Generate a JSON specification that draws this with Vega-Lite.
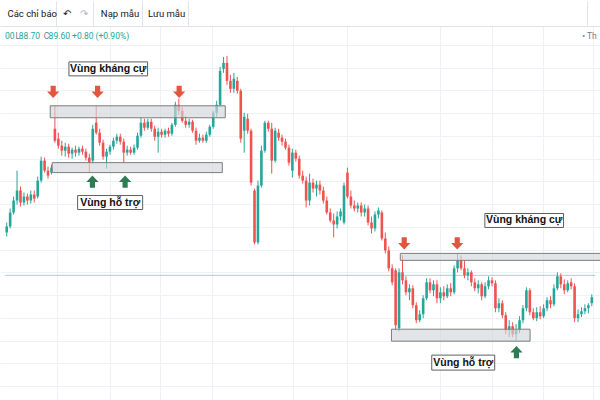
{
  "$schema": "https://vega.github.io/schema/vega-lite/v6.json",
  "width": 600,
  "height": 400,
  "padding": 0,
  "autosize": {"type": "fit", "contains": "padding"},
  "background": "#ffffff",
  "config": {"view": {"stroke": null}},
  "datasets": {
    "candles": [
      {"i":0,"o":96.1,"h":97.1,"l":95.7,"c":96.7},
      {"i":1,"o":96.7,"h":98.5,"l":96.5,"c":98.1},
      {"i":2,"o":98.1,"h":99.7,"l":97.9,"c":99.3},
      {"i":3,"o":99.3,"h":102.3,"l":98.9,"c":100.3},
      {"i":4,"o":100.3,"h":100.7,"l":98.7,"c":99.1},
      {"i":5,"o":99.1,"h":100.1,"l":98.8,"c":99.7},
      {"i":6,"o":99.7,"h":100.0,"l":98.9,"c":99.3},
      {"i":7,"o":99.3,"h":100.3,"l":99.0,"c":99.9},
      {"i":8,"o":99.9,"h":100.3,"l":99.1,"c":99.5},
      {"i":9,"o":99.7,"h":101.7,"l":99.5,"c":101.3},
      {"i":10,"o":101.3,"h":103.7,"l":101.1,"c":103.3},
      {"i":11,"o":103.3,"h":103.6,"l":102.1,"c":102.3},
      {"i":12,"o":102.3,"h":102.7,"l":101.5,"c":101.8},
      {"i":13,"o":102.1,"h":102.9,"l":101.9,"c":102.6},
      {"i":14,"o":106.5,"h":108.8,"l":105.1,"c":105.3},
      {"i":15,"o":105.5,"h":106.1,"l":104.5,"c":104.8},
      {"i":16,"o":104.8,"h":105.3,"l":103.8,"c":104.3},
      {"i":17,"o":104.3,"h":105.1,"l":103.7,"c":104.7},
      {"i":18,"o":104.7,"h":105.0,"l":103.6,"c":104.0},
      {"i":19,"o":104.0,"h":104.6,"l":103.5,"c":104.4},
      {"i":20,"o":104.4,"h":104.8,"l":103.7,"c":104.1},
      {"i":21,"o":104.1,"h":104.7,"l":103.8,"c":104.5},
      {"i":22,"o":104.5,"h":104.8,"l":103.9,"c":104.2},
      {"i":23,"o":104.2,"h":104.5,"l":103.3,"c":103.6},
      {"i":24,"o":103.6,"h":104.0,"l":102.1,"c":103.1},
      {"i":25,"o":103.3,"h":106.9,"l":103.0,"c":106.5},
      {"i":26,"o":107.1,"h":108.8,"l":105.9,"c":106.1},
      {"i":27,"o":106.1,"h":106.5,"l":104.8,"c":105.1},
      {"i":28,"o":105.1,"h":105.4,"l":103.4,"c":103.7},
      {"i":29,"o":103.7,"h":104.5,"l":102.5,"c":104.2},
      {"i":30,"o":104.2,"h":104.9,"l":103.9,"c":104.7},
      {"i":31,"o":104.7,"h":105.6,"l":104.4,"c":105.3},
      {"i":32,"o":105.3,"h":106.0,"l":105.0,"c":105.7},
      {"i":33,"o":105.7,"h":106.0,"l":104.9,"c":105.2},
      {"i":34,"o":105.2,"h":105.5,"l":103.1,"c":104.1},
      {"i":35,"o":104.1,"h":104.8,"l":103.8,"c":104.4},
      {"i":36,"o":104.4,"h":104.7,"l":103.9,"c":104.1},
      {"i":37,"o":104.1,"h":104.9,"l":103.9,"c":104.6},
      {"i":38,"o":104.6,"h":106.1,"l":104.4,"c":105.8},
      {"i":39,"o":105.8,"h":107.6,"l":105.6,"c":107.1},
      {"i":40,"o":107.1,"h":107.5,"l":106.3,"c":106.6},
      {"i":41,"o":106.6,"h":107.5,"l":106.4,"c":107.2},
      {"i":42,"o":107.2,"h":107.5,"l":106.2,"c":106.5},
      {"i":43,"o":106.5,"h":106.8,"l":105.3,"c":105.7},
      {"i":44,"o":105.7,"h":106.6,"l":104.1,"c":106.2},
      {"i":45,"o":106.2,"h":106.5,"l":105.6,"c":105.9},
      {"i":46,"o":105.9,"h":106.5,"l":105.6,"c":106.3},
      {"i":47,"o":106.3,"h":106.6,"l":105.7,"c":106.0},
      {"i":48,"o":106.0,"h":107.1,"l":105.8,"c":106.9},
      {"i":49,"o":106.9,"h":109.2,"l":106.7,"c":108.9},
      {"i":50,"o":108.9,"h":109.5,"l":107.9,"c":108.3},
      {"i":51,"o":108.3,"h":108.7,"l":107.1,"c":107.3},
      {"i":52,"o":107.3,"h":107.8,"l":106.6,"c":106.9},
      {"i":53,"o":106.9,"h":107.5,"l":106.6,"c":107.2},
      {"i":54,"o":107.2,"h":107.4,"l":106.1,"c":106.3},
      {"i":55,"o":106.3,"h":106.6,"l":104.9,"c":105.3},
      {"i":56,"o":105.3,"h":106.0,"l":105.1,"c":105.6},
      {"i":57,"o":105.6,"h":105.9,"l":105.1,"c":105.3},
      {"i":58,"o":105.3,"h":106.2,"l":105.1,"c":105.9},
      {"i":59,"o":105.9,"h":106.9,"l":105.7,"c":106.7},
      {"i":60,"o":106.7,"h":108.3,"l":106.5,"c":108.1},
      {"i":61,"o":108.1,"h":109.3,"l":107.7,"c":108.9},
      {"i":62,"o":108.9,"h":112.7,"l":108.7,"c":112.3},
      {"i":63,"o":112.5,"h":113.7,"l":112.1,"c":113.1},
      {"i":64,"o":113.1,"h":113.8,"l":110.9,"c":111.3},
      {"i":65,"o":111.3,"h":111.9,"l":110.1,"c":110.5},
      {"i":66,"o":110.5,"h":112.1,"l":110.1,"c":111.5},
      {"i":67,"o":111.3,"h":111.7,"l":110.0,"c":110.3},
      {"i":68,"o":110.3,"h":110.5,"l":105.1,"c":105.5},
      {"i":69,"o":106.3,"h":108.1,"l":104.1,"c":107.7},
      {"i":70,"o":107.5,"h":108.0,"l":106.0,"c":106.3},
      {"i":71,"o":106.3,"h":106.5,"l":100.8,"c":101.1},
      {"i":72,"o":100.3,"h":100.5,"l":94.9,"c":95.1},
      {"i":73,"o":95.1,"h":101.3,"l":94.9,"c":100.8},
      {"i":74,"o":100.8,"h":104.8,"l":100.6,"c":104.3},
      {"i":75,"o":104.3,"h":107.3,"l":104.1,"c":107.1},
      {"i":76,"o":107.1,"h":107.3,"l":106.2,"c":106.5},
      {"i":77,"o":106.5,"h":107.1,"l":102.0,"c":103.3},
      {"i":78,"o":103.3,"h":106.6,"l":103.1,"c":106.3},
      {"i":79,"o":106.1,"h":106.5,"l":105.3,"c":105.6},
      {"i":80,"o":105.6,"h":105.9,"l":104.8,"c":105.2},
      {"i":81,"o":105.2,"h":105.5,"l":104.4,"c":104.6},
      {"i":82,"o":104.6,"h":104.9,"l":102.8,"c":103.1},
      {"i":83,"o":102.3,"h":104.5,"l":101.6,"c":104.1},
      {"i":84,"o":104.1,"h":104.4,"l":103.2,"c":103.5},
      {"i":85,"o":103.5,"h":103.8,"l":101.5,"c":101.8},
      {"i":86,"o":101.8,"h":102.3,"l":101.0,"c":101.3},
      {"i":87,"o":101.3,"h":101.7,"l":98.6,"c":99.3},
      {"i":88,"o":99.3,"h":102.0,"l":98.8,"c":101.1},
      {"i":89,"o":101.1,"h":101.5,"l":100.1,"c":100.5},
      {"i":90,"o":100.5,"h":101.3,"l":99.7,"c":100.9},
      {"i":91,"o":100.9,"h":101.3,"l":99.9,"c":100.3},
      {"i":92,"o":100.3,"h":100.7,"l":99.0,"c":99.3},
      {"i":93,"o":99.3,"h":99.7,"l":97.9,"c":98.1},
      {"i":94,"o":98.1,"h":98.5,"l":97.1,"c":97.3},
      {"i":95,"o":97.3,"h":98.0,"l":95.6,"c":96.9},
      {"i":96,"o":96.9,"h":98.2,"l":96.5,"c":97.7},
      {"i":97,"o":97.7,"h":98.5,"l":97.3,"c":98.2},
      {"i":98,"o":97.1,"h":101.1,"l":96.9,"c":100.8},
      {"i":99,"o":102.1,"h":102.6,"l":99.5,"c":99.7},
      {"i":100,"o":99.7,"h":100.3,"l":98.5,"c":98.8},
      {"i":101,"o":98.8,"h":99.3,"l":98.2,"c":98.5},
      {"i":102,"o":98.5,"h":99.1,"l":98.1,"c":98.8},
      {"i":103,"o":98.8,"h":99.1,"l":97.7,"c":98.1},
      {"i":104,"o":98.1,"h":98.9,"l":97.7,"c":98.5},
      {"i":105,"o":98.5,"h":98.8,"l":96.8,"c":97.1},
      {"i":106,"o":97.1,"h":97.7,"l":96.0,"c":96.5},
      {"i":107,"o":96.5,"h":98.2,"l":96.2,"c":97.9},
      {"i":108,"o":97.9,"h":98.6,"l":97.5,"c":98.3},
      {"i":109,"o":98.1,"h":98.3,"l":95.3,"c":95.5},
      {"i":110,"o":95.5,"h":96.1,"l":94.0,"c":94.3},
      {"i":111,"o":94.3,"h":94.7,"l":92.2,"c":92.5},
      {"i":112,"o":92.5,"h":92.9,"l":90.8,"c":91.1},
      {"i":113,"o":92.3,"h":92.5,"l":86.3,"c":86.8},
      {"i":114,"o":86.5,"h":92.5,"l":86.2,"c":92.1},
      {"i":115,"o":92.1,"h":93.8,"l":90.9,"c":91.3},
      {"i":116,"o":91.3,"h":91.7,"l":89.8,"c":90.1},
      {"i":117,"o":90.1,"h":90.9,"l":89.3,"c":90.5},
      {"i":118,"o":90.5,"h":90.8,"l":88.5,"c":88.8},
      {"i":119,"o":88.8,"h":89.1,"l":87.0,"c":87.3},
      {"i":120,"o":87.3,"h":88.3,"l":87.1,"c":87.9},
      {"i":121,"o":87.9,"h":89.8,"l":87.5,"c":89.5},
      {"i":122,"o":89.5,"h":91.5,"l":89.3,"c":91.1},
      {"i":123,"o":91.1,"h":91.5,"l":90.0,"c":90.3},
      {"i":124,"o":90.3,"h":91.3,"l":89.7,"c":90.9},
      {"i":125,"o":90.9,"h":91.3,"l":89.0,"c":89.5},
      {"i":126,"o":89.5,"h":90.6,"l":89.0,"c":90.1},
      {"i":127,"o":90.1,"h":90.7,"l":89.3,"c":89.7},
      {"i":128,"o":89.7,"h":90.9,"l":89.5,"c":90.5},
      {"i":129,"o":90.5,"h":91.0,"l":89.7,"c":90.1},
      {"i":130,"o":90.1,"h":92.8,"l":89.9,"c":92.5},
      {"i":131,"o":92.5,"h":94.0,"l":92.1,"c":93.3},
      {"i":132,"o":93.3,"h":93.8,"l":92.3,"c":92.5},
      {"i":133,"o":92.5,"h":93.3,"l":91.5,"c":91.8},
      {"i":134,"o":91.8,"h":92.5,"l":91.3,"c":92.1},
      {"i":135,"o":92.1,"h":92.3,"l":90.7,"c":91.1},
      {"i":136,"o":91.1,"h":91.5,"l":90.2,"c":90.5},
      {"i":137,"o":90.5,"h":91.3,"l":90.0,"c":90.9},
      {"i":138,"o":90.9,"h":91.1,"l":89.3,"c":89.7},
      {"i":139,"o":89.7,"h":91.1,"l":89.5,"c":90.7},
      {"i":140,"o":90.7,"h":91.7,"l":90.4,"c":91.3},
      {"i":141,"o":91.3,"h":91.6,"l":90.7,"c":91.0},
      {"i":142,"o":91.0,"h":91.3,"l":88.1,"c":88.5},
      {"i":143,"o":88.5,"h":89.5,"l":88.1,"c":89.0},
      {"i":144,"o":89.0,"h":89.3,"l":87.5,"c":87.8},
      {"i":145,"o":87.8,"h":88.1,"l":85.9,"c":86.3},
      {"i":146,"o":86.3,"h":87.3,"l":85.6,"c":86.7},
      {"i":147,"o":86.7,"h":87.1,"l":85.6,"c":85.9},
      {"i":148,"o":85.9,"h":86.9,"l":85.3,"c":86.3},
      {"i":149,"o":86.3,"h":87.7,"l":86.0,"c":87.3},
      {"i":150,"o":87.3,"h":88.8,"l":87.0,"c":88.5},
      {"i":151,"o":88.5,"h":90.6,"l":88.2,"c":90.3},
      {"i":152,"o":90.3,"h":90.5,"l":87.8,"c":88.1},
      {"i":153,"o":88.1,"h":88.5,"l":87.3,"c":87.5},
      {"i":154,"o":87.5,"h":88.6,"l":87.2,"c":88.1},
      {"i":155,"o":88.1,"h":88.7,"l":87.4,"c":87.7},
      {"i":156,"o":87.7,"h":88.9,"l":87.5,"c":88.5},
      {"i":157,"o":88.5,"h":89.6,"l":88.2,"c":89.3},
      {"i":158,"o":89.3,"h":89.7,"l":88.5,"c":88.9},
      {"i":159,"o":88.9,"h":90.9,"l":88.7,"c":90.5},
      {"i":160,"o":90.5,"h":92.1,"l":90.3,"c":91.7},
      {"i":161,"o":91.7,"h":92.0,"l":90.5,"c":90.9},
      {"i":162,"o":90.9,"h":91.4,"l":89.9,"c":90.3},
      {"i":163,"o":90.3,"h":91.3,"l":90.1,"c":91.0},
      {"i":164,"o":91.1,"h":91.5,"l":90.4,"c":90.7},
      {"i":165,"o":90.7,"h":91.0,"l":87.1,"c":87.5},
      {"i":166,"o":87.5,"h":88.4,"l":87.1,"c":87.9},
      {"i":167,"o":87.9,"h":88.6,"l":87.6,"c":88.2},
      {"i":168,"o":88.2,"h":88.9,"l":87.9,"c":88.5},
      {"i":169,"o":88.5,"h":89.0,"l":88.0,"c":88.8},
      {"i":170,"o":89.0,"h":89.9,"l":88.7,"c":89.6}
    ],
    "zones": [
      {"zone":"Kháng cự 1","i":12.64,"i2":63.5,"p":108.8,"p2":107.6},
      {"zone":"Hỗ trợ 1","i":13.21,"i2":62.64,"p":103.1,"p2":102.1},
      {"zone":"Kháng cự 2","i":114.36,"i2":174,"p":94.0,"p2":93.3},
      {"zone":"Hỗ trợ 2","i":111.79,"i2":152.07,"p":86.4,"p2":85.2}
    ],
    "resistance_touches": [
      {"i":13.5,"p":110.2},{"i":26.4,"p":110.2},{"i":50.1,"p":110.2},
      {"i":115.5,"p":95.0},{"i":130.9,"p":95.0}
    ],
    "support_touches": [
      {"i":24.9,"p":101.2},{"i":34.4,"p":101.2},{"i":148.1,"p":84.1}
    ],
    "labels": [
      {"t":"Vùng kháng cự","i":18.07,"i2":40.93,"p":113.2,"p2":111.8,"ic":29.5,"pc":112.5},
      {"t":"Vùng hỗ trợ","i":20.6,"i2":39.5,"p":99.8,"p2":98.4,"ic":30.05,"pc":99.1},
      {"t":"Vùng kháng cự","i":138.93,"i2":161.79,"p":98.0,"p2":96.6,"ic":150.36,"pc":97.3},
      {"t":"Vùng hỗ trợ","i":123.5,"i2":141.79,"p":83.8,"p2":82.3,"ic":132.64,"pc":83.05}
    ],
    "legend": [
      {"t":"00","k":"v","i":-0.5,"p":115.8},
      {"t":"L","k":"k","i":2.55,"p":115.8},
      {"t":"88.70","k":"v","i":3.5,"p":115.8},
      {"t":"C","k":"k","i":10.74,"p":115.8},
      {"t":"89.60","k":"v","i":12.17,"p":115.8},
      {"t":"+0.80 (+0.90%)","k":"v","i":19.0,"p":115.8},
      {"t":"• Th","k":"k","i":167.2,"p":115.8}
    ],
    "price_line": [{"i":-0.5,"i2":171,"p":91.8}]
  },
  "layer": [
    {
      "data": {"name": "price_line"},
      "mark": {"type": "rule", "color": "#26a69a", "opacity": 0.45, "strokeWidth": 1},
      "encoding": {
        "x": {"field": "i", "type": "quantitative", "title": null, "scale": {"domain": [-0.5, 170.93], "nice": false, "zero": false}, "axis": {"orient": "top", "title": null, "values": [0.07, 14.36, 14.64, 17.36, 22.36, 25.21, 27.21, 30.07, 39.21, 40.93, 44.64, 52.64, 59.64, 83.21, 98.93, 125.79, 140.93, 155.79, 168.64, 170.21], "domain": true, "domainColor": "#e0e3eb", "ticks": true, "tickSize": 25, "tickColor": "#e0e3eb", "tickOpacity": {"condition": {"test": "datum.value == 14.36 || datum.value == 25.21 || datum.value == 39.21 || datum.value == 52.64 || datum.value == 168.64", "value": 1}, "value": 0}, "grid": true, "gridColor": "#eef1f6", "gridOpacity": {"condition": {"test": "datum.value == 14.64 || datum.value == 30.07 || datum.value == 44.64 || datum.value == 59.64 || datum.value == 83.21 || datum.value == 98.93 || datum.value == 125.79 || datum.value == 140.93 || datum.value == 155.79 || datum.value == 170.21", "value": 1}, "value": 0}, "labelExpr": "datum.value == 0.07 ? 'Các chỉ báo' : datum.value == 17.36 ? '↶' : datum.value == 22.36 ? '↷' : datum.value == 27.21 ? 'Nạp mẫu' : datum.value == 40.93 ? 'Lưu mẫu' : ''", "labelPadding": -12.5, "labelBaseline": "middle", "labelAlign": {"condition": {"test": "datum.value == 17.36 || datum.value == 22.36", "value": "center"}, "value": "left"}, "labelColor": {"condition": {"test": "datum.value == 22.36", "value": "#b2b5be"}, "value": "#131722"}, "labelFont": "Roboto", "labelFontSize": 9.5, "labelOverlap": false, "labelFlush": false, "labelBound": false, "minExtent": 25, "maxExtent": 25}},
        "x2": {"field": "i2"},
        "y": {"field": "p", "type": "quantitative", "title": null, "scale": {"domain": [79.3, 116.8], "nice": false, "zero": false}, "axis": {"orient": "left", "title": null, "labels": false, "ticks": false, "domain": false, "grid": true, "gridColor": "#eef1f6", "values": [80.7, 82.98, 85.26, 87.54, 89.82, 92.1, 94.38, 96.66, 98.94, 101.22, 103.5, 105.78, 108.06, 110.34, 112.62, 114.9], "minExtent": 0, "maxExtent": 0}}
      }
    },
    {
      "data": {"name": "candles"},
      "mark": {"type": "rule", "strokeWidth": 1},
      "encoding": {
        "x": {"field": "i", "type": "quantitative", "title": null, "scale": {"domain": [-0.5, 170.93], "nice": false, "zero": false}, "axis": {"orient": "top", "title": null, "values": [0.07, 14.36, 14.64, 17.36, 22.36, 25.21, 27.21, 30.07, 39.21, 40.93, 44.64, 52.64, 59.64, 83.21, 98.93, 125.79, 140.93, 155.79, 168.64, 170.21], "domain": true, "domainColor": "#e0e3eb", "ticks": true, "tickSize": 25, "tickColor": "#e0e3eb", "tickOpacity": {"condition": {"test": "datum.value == 14.36 || datum.value == 25.21 || datum.value == 39.21 || datum.value == 52.64 || datum.value == 168.64", "value": 1}, "value": 0}, "grid": true, "gridColor": "#eef1f6", "gridOpacity": {"condition": {"test": "datum.value == 14.64 || datum.value == 30.07 || datum.value == 44.64 || datum.value == 59.64 || datum.value == 83.21 || datum.value == 98.93 || datum.value == 125.79 || datum.value == 140.93 || datum.value == 155.79 || datum.value == 170.21", "value": 1}, "value": 0}, "labelExpr": "datum.value == 0.07 ? 'Các chỉ báo' : datum.value == 17.36 ? '↶' : datum.value == 22.36 ? '↷' : datum.value == 27.21 ? 'Nạp mẫu' : datum.value == 40.93 ? 'Lưu mẫu' : ''", "labelPadding": -12.5, "labelBaseline": "middle", "labelAlign": {"condition": {"test": "datum.value == 17.36 || datum.value == 22.36", "value": "center"}, "value": "left"}, "labelColor": {"condition": {"test": "datum.value == 22.36", "value": "#b2b5be"}, "value": "#131722"}, "labelFont": "Roboto", "labelFontSize": 9.5, "labelOverlap": false, "labelFlush": false, "labelBound": false, "minExtent": 25, "maxExtent": 25}},
        "y": {"field": "l", "type": "quantitative", "title": null, "scale": {"domain": [79.3, 116.8], "nice": false, "zero": false}, "axis": {"orient": "left", "title": null, "labels": false, "ticks": false, "domain": false, "grid": true, "gridColor": "#eef1f6", "values": [80.7, 82.98, 85.26, 87.54, 89.82, 92.1, 94.38, 96.66, 98.94, 101.22, 103.5, 105.78, 108.06, 110.34, 112.62, 114.9], "minExtent": 0, "maxExtent": 0}},
        "y2": {"field": "h"},
        "color": {"condition": {"test": "datum.c >= datum.o", "value": "#26a69a"}, "value": "#ef5350"}
      }
    },
    {
      "data": {"name": "candles"},
      "mark": {"type": "bar", "width": 2.6},
      "encoding": {
        "x": {"field": "i", "type": "quantitative", "title": null, "scale": {"domain": [-0.5, 170.93], "nice": false, "zero": false}, "axis": {"orient": "top", "title": null, "values": [0.07, 14.36, 14.64, 17.36, 22.36, 25.21, 27.21, 30.07, 39.21, 40.93, 44.64, 52.64, 59.64, 83.21, 98.93, 125.79, 140.93, 155.79, 168.64, 170.21], "domain": true, "domainColor": "#e0e3eb", "ticks": true, "tickSize": 25, "tickColor": "#e0e3eb", "tickOpacity": {"condition": {"test": "datum.value == 14.36 || datum.value == 25.21 || datum.value == 39.21 || datum.value == 52.64 || datum.value == 168.64", "value": 1}, "value": 0}, "grid": true, "gridColor": "#eef1f6", "gridOpacity": {"condition": {"test": "datum.value == 14.64 || datum.value == 30.07 || datum.value == 44.64 || datum.value == 59.64 || datum.value == 83.21 || datum.value == 98.93 || datum.value == 125.79 || datum.value == 140.93 || datum.value == 155.79 || datum.value == 170.21", "value": 1}, "value": 0}, "labelExpr": "datum.value == 0.07 ? 'Các chỉ báo' : datum.value == 17.36 ? '↶' : datum.value == 22.36 ? '↷' : datum.value == 27.21 ? 'Nạp mẫu' : datum.value == 40.93 ? 'Lưu mẫu' : ''", "labelPadding": -12.5, "labelBaseline": "middle", "labelAlign": {"condition": {"test": "datum.value == 17.36 || datum.value == 22.36", "value": "center"}, "value": "left"}, "labelColor": {"condition": {"test": "datum.value == 22.36", "value": "#b2b5be"}, "value": "#131722"}, "labelFont": "Roboto", "labelFontSize": 9.5, "labelOverlap": false, "labelFlush": false, "labelBound": false, "minExtent": 25, "maxExtent": 25}},
        "y": {"field": "o", "type": "quantitative", "title": null, "scale": {"domain": [79.3, 116.8], "nice": false, "zero": false}, "axis": {"orient": "left", "title": null, "labels": false, "ticks": false, "domain": false, "grid": true, "gridColor": "#eef1f6", "values": [80.7, 82.98, 85.26, 87.54, 89.82, 92.1, 94.38, 96.66, 98.94, 101.22, 103.5, 105.78, 108.06, 110.34, 112.62, 114.9], "minExtent": 0, "maxExtent": 0}},
        "y2": {"field": "c"},
        "color": {"condition": {"test": "datum.c >= datum.o", "value": "#26a69a"}, "value": "#ef5350"}
      }
    },
    {
      "data": {"name": "zones"},
      "mark": {"type": "rect", "fill": "#d3d5da", "fillOpacity": 0.65, "stroke": "#7d7d7d", "strokeWidth": 1, "clip": true},
      "encoding": {
        "x": {"field": "i", "type": "quantitative", "title": null, "scale": {"domain": [-0.5, 170.93], "nice": false, "zero": false}, "axis": {"orient": "top", "title": null, "values": [0.07, 14.36, 14.64, 17.36, 22.36, 25.21, 27.21, 30.07, 39.21, 40.93, 44.64, 52.64, 59.64, 83.21, 98.93, 125.79, 140.93, 155.79, 168.64, 170.21], "domain": true, "domainColor": "#e0e3eb", "ticks": true, "tickSize": 25, "tickColor": "#e0e3eb", "tickOpacity": {"condition": {"test": "datum.value == 14.36 || datum.value == 25.21 || datum.value == 39.21 || datum.value == 52.64 || datum.value == 168.64", "value": 1}, "value": 0}, "grid": true, "gridColor": "#eef1f6", "gridOpacity": {"condition": {"test": "datum.value == 14.64 || datum.value == 30.07 || datum.value == 44.64 || datum.value == 59.64 || datum.value == 83.21 || datum.value == 98.93 || datum.value == 125.79 || datum.value == 140.93 || datum.value == 155.79 || datum.value == 170.21", "value": 1}, "value": 0}, "labelExpr": "datum.value == 0.07 ? 'Các chỉ báo' : datum.value == 17.36 ? '↶' : datum.value == 22.36 ? '↷' : datum.value == 27.21 ? 'Nạp mẫu' : datum.value == 40.93 ? 'Lưu mẫu' : ''", "labelPadding": -12.5, "labelBaseline": "middle", "labelAlign": {"condition": {"test": "datum.value == 17.36 || datum.value == 22.36", "value": "center"}, "value": "left"}, "labelColor": {"condition": {"test": "datum.value == 22.36", "value": "#b2b5be"}, "value": "#131722"}, "labelFont": "Roboto", "labelFontSize": 9.5, "labelOverlap": false, "labelFlush": false, "labelBound": false, "minExtent": 25, "maxExtent": 25}},
        "x2": {"field": "i2"},
        "y": {"field": "p", "type": "quantitative", "title": null, "scale": {"domain": [79.3, 116.8], "nice": false, "zero": false}, "axis": {"orient": "left", "title": null, "labels": false, "ticks": false, "domain": false, "grid": true, "gridColor": "#eef1f6", "values": [80.7, 82.98, 85.26, 87.54, 89.82, 92.1, 94.38, 96.66, 98.94, 101.22, 103.5, 105.78, 108.06, 110.34, 112.62, 114.9], "minExtent": 0, "maxExtent": 0}},
        "y2": {"field": "p2"}
      }
    },
    {
      "data": {"name": "resistance_touches"},
      "mark": {"type": "point", "filled": true, "size": 150, "opacity": 1, "color": "#e2553f", "shape": "M-0.42,-1L0.42,-1L0.42,-0.05L1,-0.05L0,1L-1,-0.05L-0.42,-0.05Z"},
      "encoding": {
        "x": {"field": "i", "type": "quantitative", "title": null, "scale": {"domain": [-0.5, 170.93], "nice": false, "zero": false}, "axis": {"orient": "top", "title": null, "values": [0.07, 14.36, 14.64, 17.36, 22.36, 25.21, 27.21, 30.07, 39.21, 40.93, 44.64, 52.64, 59.64, 83.21, 98.93, 125.79, 140.93, 155.79, 168.64, 170.21], "domain": true, "domainColor": "#e0e3eb", "ticks": true, "tickSize": 25, "tickColor": "#e0e3eb", "tickOpacity": {"condition": {"test": "datum.value == 14.36 || datum.value == 25.21 || datum.value == 39.21 || datum.value == 52.64 || datum.value == 168.64", "value": 1}, "value": 0}, "grid": true, "gridColor": "#eef1f6", "gridOpacity": {"condition": {"test": "datum.value == 14.64 || datum.value == 30.07 || datum.value == 44.64 || datum.value == 59.64 || datum.value == 83.21 || datum.value == 98.93 || datum.value == 125.79 || datum.value == 140.93 || datum.value == 155.79 || datum.value == 170.21", "value": 1}, "value": 0}, "labelExpr": "datum.value == 0.07 ? 'Các chỉ báo' : datum.value == 17.36 ? '↶' : datum.value == 22.36 ? '↷' : datum.value == 27.21 ? 'Nạp mẫu' : datum.value == 40.93 ? 'Lưu mẫu' : ''", "labelPadding": -12.5, "labelBaseline": "middle", "labelAlign": {"condition": {"test": "datum.value == 17.36 || datum.value == 22.36", "value": "center"}, "value": "left"}, "labelColor": {"condition": {"test": "datum.value == 22.36", "value": "#b2b5be"}, "value": "#131722"}, "labelFont": "Roboto", "labelFontSize": 9.5, "labelOverlap": false, "labelFlush": false, "labelBound": false, "minExtent": 25, "maxExtent": 25}},
        "y": {"field": "p", "type": "quantitative", "title": null, "scale": {"domain": [79.3, 116.8], "nice": false, "zero": false}, "axis": {"orient": "left", "title": null, "labels": false, "ticks": false, "domain": false, "grid": true, "gridColor": "#eef1f6", "values": [80.7, 82.98, 85.26, 87.54, 89.82, 92.1, 94.38, 96.66, 98.94, 101.22, 103.5, 105.78, 108.06, 110.34, 112.62, 114.9], "minExtent": 0, "maxExtent": 0}}
      }
    },
    {
      "data": {"name": "support_touches"},
      "mark": {"type": "point", "filled": true, "size": 150, "opacity": 1, "color": "#2e7d52", "shape": "M-0.42,1L0.42,1L0.42,0.05L1,0.05L0,-1L-1,0.05L-0.42,0.05Z"},
      "encoding": {
        "x": {"field": "i", "type": "quantitative", "title": null, "scale": {"domain": [-0.5, 170.93], "nice": false, "zero": false}, "axis": {"orient": "top", "title": null, "values": [0.07, 14.36, 14.64, 17.36, 22.36, 25.21, 27.21, 30.07, 39.21, 40.93, 44.64, 52.64, 59.64, 83.21, 98.93, 125.79, 140.93, 155.79, 168.64, 170.21], "domain": true, "domainColor": "#e0e3eb", "ticks": true, "tickSize": 25, "tickColor": "#e0e3eb", "tickOpacity": {"condition": {"test": "datum.value == 14.36 || datum.value == 25.21 || datum.value == 39.21 || datum.value == 52.64 || datum.value == 168.64", "value": 1}, "value": 0}, "grid": true, "gridColor": "#eef1f6", "gridOpacity": {"condition": {"test": "datum.value == 14.64 || datum.value == 30.07 || datum.value == 44.64 || datum.value == 59.64 || datum.value == 83.21 || datum.value == 98.93 || datum.value == 125.79 || datum.value == 140.93 || datum.value == 155.79 || datum.value == 170.21", "value": 1}, "value": 0}, "labelExpr": "datum.value == 0.07 ? 'Các chỉ báo' : datum.value == 17.36 ? '↶' : datum.value == 22.36 ? '↷' : datum.value == 27.21 ? 'Nạp mẫu' : datum.value == 40.93 ? 'Lưu mẫu' : ''", "labelPadding": -12.5, "labelBaseline": "middle", "labelAlign": {"condition": {"test": "datum.value == 17.36 || datum.value == 22.36", "value": "center"}, "value": "left"}, "labelColor": {"condition": {"test": "datum.value == 22.36", "value": "#b2b5be"}, "value": "#131722"}, "labelFont": "Roboto", "labelFontSize": 9.5, "labelOverlap": false, "labelFlush": false, "labelBound": false, "minExtent": 25, "maxExtent": 25}},
        "y": {"field": "p", "type": "quantitative", "title": null, "scale": {"domain": [79.3, 116.8], "nice": false, "zero": false}, "axis": {"orient": "left", "title": null, "labels": false, "ticks": false, "domain": false, "grid": true, "gridColor": "#eef1f6", "values": [80.7, 82.98, 85.26, 87.54, 89.82, 92.1, 94.38, 96.66, 98.94, 101.22, 103.5, 105.78, 108.06, 110.34, 112.62, 114.9], "minExtent": 0, "maxExtent": 0}}
      }
    },
    {
      "data": {"name": "labels"},
      "mark": {"type": "rect", "fill": "#ffffff", "stroke": "#5f5f5f", "strokeWidth": 1},
      "encoding": {
        "x": {"field": "i", "type": "quantitative", "title": null, "scale": {"domain": [-0.5, 170.93], "nice": false, "zero": false}, "axis": {"orient": "top", "title": null, "values": [0.07, 14.36, 14.64, 17.36, 22.36, 25.21, 27.21, 30.07, 39.21, 40.93, 44.64, 52.64, 59.64, 83.21, 98.93, 125.79, 140.93, 155.79, 168.64, 170.21], "domain": true, "domainColor": "#e0e3eb", "ticks": true, "tickSize": 25, "tickColor": "#e0e3eb", "tickOpacity": {"condition": {"test": "datum.value == 14.36 || datum.value == 25.21 || datum.value == 39.21 || datum.value == 52.64 || datum.value == 168.64", "value": 1}, "value": 0}, "grid": true, "gridColor": "#eef1f6", "gridOpacity": {"condition": {"test": "datum.value == 14.64 || datum.value == 30.07 || datum.value == 44.64 || datum.value == 59.64 || datum.value == 83.21 || datum.value == 98.93 || datum.value == 125.79 || datum.value == 140.93 || datum.value == 155.79 || datum.value == 170.21", "value": 1}, "value": 0}, "labelExpr": "datum.value == 0.07 ? 'Các chỉ báo' : datum.value == 17.36 ? '↶' : datum.value == 22.36 ? '↷' : datum.value == 27.21 ? 'Nạp mẫu' : datum.value == 40.93 ? 'Lưu mẫu' : ''", "labelPadding": -12.5, "labelBaseline": "middle", "labelAlign": {"condition": {"test": "datum.value == 17.36 || datum.value == 22.36", "value": "center"}, "value": "left"}, "labelColor": {"condition": {"test": "datum.value == 22.36", "value": "#b2b5be"}, "value": "#131722"}, "labelFont": "Roboto", "labelFontSize": 9.5, "labelOverlap": false, "labelFlush": false, "labelBound": false, "minExtent": 25, "maxExtent": 25}},
        "x2": {"field": "i2"},
        "y": {"field": "p", "type": "quantitative", "title": null, "scale": {"domain": [79.3, 116.8], "nice": false, "zero": false}, "axis": {"orient": "left", "title": null, "labels": false, "ticks": false, "domain": false, "grid": true, "gridColor": "#eef1f6", "values": [80.7, 82.98, 85.26, 87.54, 89.82, 92.1, 94.38, 96.66, 98.94, 101.22, 103.5, 105.78, 108.06, 110.34, 112.62, 114.9], "minExtent": 0, "maxExtent": 0}},
        "y2": {"field": "p2"}
      }
    },
    {
      "data": {"name": "labels"},
      "mark": {"type": "text", "font": "Liberation Sans", "fontWeight": "bold", "fontSize": 10.5, "color": "#111111", "align": "center", "baseline": "middle"},
      "encoding": {
        "x": {"field": "ic", "type": "quantitative", "title": null, "scale": {"domain": [-0.5, 170.93], "nice": false, "zero": false}, "axis": {"orient": "top", "title": null, "values": [0.07, 14.36, 14.64, 17.36, 22.36, 25.21, 27.21, 30.07, 39.21, 40.93, 44.64, 52.64, 59.64, 83.21, 98.93, 125.79, 140.93, 155.79, 168.64, 170.21], "domain": true, "domainColor": "#e0e3eb", "ticks": true, "tickSize": 25, "tickColor": "#e0e3eb", "tickOpacity": {"condition": {"test": "datum.value == 14.36 || datum.value == 25.21 || datum.value == 39.21 || datum.value == 52.64 || datum.value == 168.64", "value": 1}, "value": 0}, "grid": true, "gridColor": "#eef1f6", "gridOpacity": {"condition": {"test": "datum.value == 14.64 || datum.value == 30.07 || datum.value == 44.64 || datum.value == 59.64 || datum.value == 83.21 || datum.value == 98.93 || datum.value == 125.79 || datum.value == 140.93 || datum.value == 155.79 || datum.value == 170.21", "value": 1}, "value": 0}, "labelExpr": "datum.value == 0.07 ? 'Các chỉ báo' : datum.value == 17.36 ? '↶' : datum.value == 22.36 ? '↷' : datum.value == 27.21 ? 'Nạp mẫu' : datum.value == 40.93 ? 'Lưu mẫu' : ''", "labelPadding": -12.5, "labelBaseline": "middle", "labelAlign": {"condition": {"test": "datum.value == 17.36 || datum.value == 22.36", "value": "center"}, "value": "left"}, "labelColor": {"condition": {"test": "datum.value == 22.36", "value": "#b2b5be"}, "value": "#131722"}, "labelFont": "Roboto", "labelFontSize": 9.5, "labelOverlap": false, "labelFlush": false, "labelBound": false, "minExtent": 25, "maxExtent": 25}},
        "y": {"field": "pc", "type": "quantitative", "title": null, "scale": {"domain": [79.3, 116.8], "nice": false, "zero": false}, "axis": {"orient": "left", "title": null, "labels": false, "ticks": false, "domain": false, "grid": true, "gridColor": "#eef1f6", "values": [80.7, 82.98, 85.26, 87.54, 89.82, 92.1, 94.38, 96.66, 98.94, 101.22, 103.5, 105.78, 108.06, 110.34, 112.62, 114.9], "minExtent": 0, "maxExtent": 0}},
        "text": {"field": "t"}
      }
    },
    {
      "data": {"name": "legend"},
      "mark": {"type": "text", "font": "Roboto", "fontSize": 8.5, "align": "left", "baseline": "middle", "clip": true},
      "encoding": {
        "x": {"field": "i", "type": "quantitative", "title": null, "scale": {"domain": [-0.5, 170.93], "nice": false, "zero": false}, "axis": {"orient": "top", "title": null, "values": [0.07, 14.36, 14.64, 17.36, 22.36, 25.21, 27.21, 30.07, 39.21, 40.93, 44.64, 52.64, 59.64, 83.21, 98.93, 125.79, 140.93, 155.79, 168.64, 170.21], "domain": true, "domainColor": "#e0e3eb", "ticks": true, "tickSize": 25, "tickColor": "#e0e3eb", "tickOpacity": {"condition": {"test": "datum.value == 14.36 || datum.value == 25.21 || datum.value == 39.21 || datum.value == 52.64 || datum.value == 168.64", "value": 1}, "value": 0}, "grid": true, "gridColor": "#eef1f6", "gridOpacity": {"condition": {"test": "datum.value == 14.64 || datum.value == 30.07 || datum.value == 44.64 || datum.value == 59.64 || datum.value == 83.21 || datum.value == 98.93 || datum.value == 125.79 || datum.value == 140.93 || datum.value == 155.79 || datum.value == 170.21", "value": 1}, "value": 0}, "labelExpr": "datum.value == 0.07 ? 'Các chỉ báo' : datum.value == 17.36 ? '↶' : datum.value == 22.36 ? '↷' : datum.value == 27.21 ? 'Nạp mẫu' : datum.value == 40.93 ? 'Lưu mẫu' : ''", "labelPadding": -12.5, "labelBaseline": "middle", "labelAlign": {"condition": {"test": "datum.value == 17.36 || datum.value == 22.36", "value": "center"}, "value": "left"}, "labelColor": {"condition": {"test": "datum.value == 22.36", "value": "#b2b5be"}, "value": "#131722"}, "labelFont": "Roboto", "labelFontSize": 9.5, "labelOverlap": false, "labelFlush": false, "labelBound": false, "minExtent": 25, "maxExtent": 25}},
        "y": {"field": "p", "type": "quantitative", "title": null, "scale": {"domain": [79.3, 116.8], "nice": false, "zero": false}, "axis": {"orient": "left", "title": null, "labels": false, "ticks": false, "domain": false, "grid": true, "gridColor": "#eef1f6", "values": [80.7, 82.98, 85.26, 87.54, 89.82, 92.1, 94.38, 96.66, 98.94, 101.22, 103.5, 105.78, 108.06, 110.34, 112.62, 114.9], "minExtent": 0, "maxExtent": 0}},
        "text": {"field": "t"},
        "color": {"condition": {"test": "datum.k == 'k'", "value": "#787b86"}, "value": "#26a69a"}
      }
    }
  ]
}
